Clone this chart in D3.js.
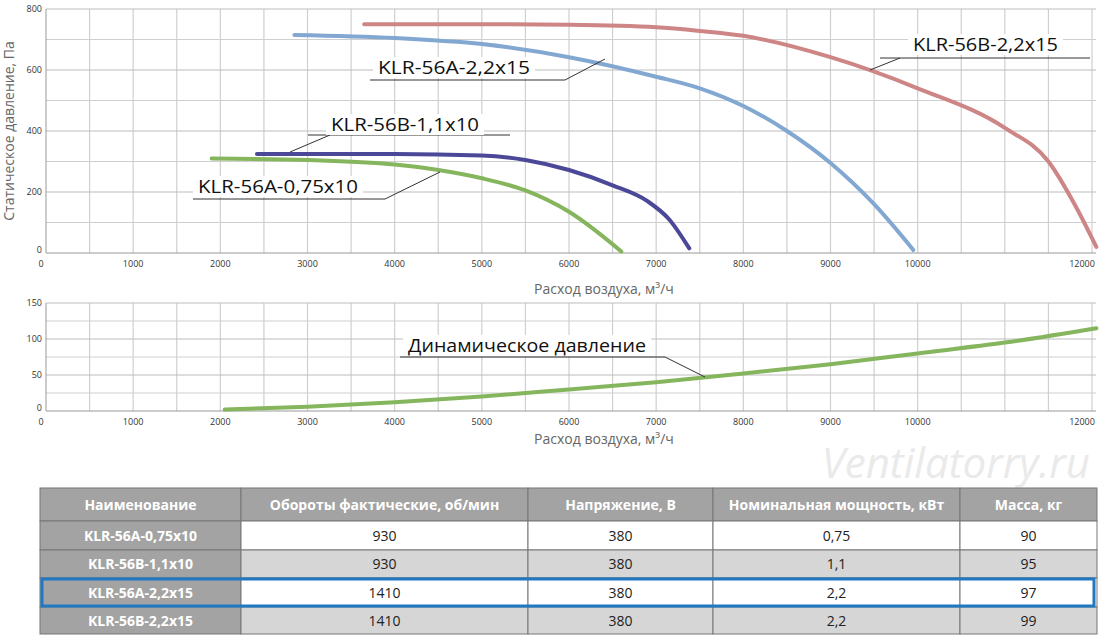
<!DOCTYPE html>
<html><head><meta charset="utf-8">
<script src="https://cdn.jsdelivr.net/npm/d3@7"></script>
<style>body{margin:0;background:#fff}svg{font-family:"Open Sans",sans-serif}</style>
</head><body><svg id="c" width="1100" height="640"></svg>
<script>
const curveNames = ["KLR-56A-0,75x10", "KLR-56B-1,1x10", "KLR-56A-2,2x15", "KLR-56B-2,2x15"];
const curveColors = ["#85b55c", "#4b4897", "#82a8d2", "#cd8585"];
const curveA075 = [[1900,310],[3000,305],[4000,290],[4500,272],[5000,245],[5500,205],[6000,135],[6600,5]];
const curveB11 = [[2420,325],[4000,325],[5000,320],[5500,305],[6000,272],[6500,222],[6900,170],[7150,110],[7380,15]];
const curveA22 = [[2850,715],[4000,705],[5000,685],[6000,642],[7000,578],[7500,540],[8000,482],[8500,400],[9000,295],[9500,160],[9950,10]];
const curveB22 = [[3650,750],[5000,750],[6000,748],[7000,740],[7500,728],[8000,712],[9000,642],[10000,540],[11000,410],[11500,300],[11800,160],[12050,20]];
const dynamic = [[2050,2],[3000,6],[4000,12],[5000,20],[6000,30],[7000,40],[8000,52],[9000,65],[10000,80],[11000,95],[12050,115]];
const xTicks = [0,1000,2000,3000,4000,5000,6000,7000,8000,9000,10000,12000];
const yTicksTop = [0,200,400,600,800];
const yTicksBot = [0,50,100,150];
const tableHead = ["Наименование","Обороты фактические, об/мин","Напряжение, В","Номинальная мощность, кВт","Масса, кг"];
const tableRows = [
  ["KLR-56A-0,75x10","930","380","0,75","90"],
  ["KLR-56B-1,1x10","930","380","1,1","95"],
  ["KLR-56A-2,2x15","1410","380","2,2","97"],
  ["KLR-56B-2,2x15","1410","380","2,2","99"]
];

const svg = d3.select("#c");
const x = d3.scaleLinear().domain([0,12000]).range([46,1092]);
const yT = d3.scaleLinear().domain([0,800]).range([253,9]);
const yB = d3.scaleLinear().domain([0,150]).range([411,303]);

function panel(y, maxV, step, ticks) {
  const g = svg.append("g");
  g.selectAll(".v").data(d3.range(500,12500,500)).enter().append("line")
    .attr("x1",d=>x(d)).attr("x2",d=>x(d)).attr("y1",y(0)).attr("y2",y(maxV))
    .attr("stroke","#cfcfcf").attr("stroke-width",1.2);
  g.selectAll(".h").data(d3.range(step,maxV+1,step)).enter().append("line")
    .attr("x1",x(0)).attr("x2",x(12000)+4).attr("y1",d=>y(d)).attr("y2",d=>y(d))
    .attr("stroke",(d,i)=>i%2?"#bdbdbd":"#cfcfcf").attr("stroke-width",1.2);
  g.append("line").attr("x1",x(0)).attr("x2",x(0)).attr("y1",y(0)).attr("y2",y(maxV)).attr("stroke","#999");
  g.append("line").attr("x1",x(0)).attr("x2",x(12000)+4).attr("y1",y(0)).attr("y2",y(0)).attr("stroke","#999");
  g.selectAll(".yl").data(ticks).enter().append("text").attr("x",x(0)-4).attr("y",d=>y(d)+(d===0?0:3))
    .attr("text-anchor","end").attr("font-size",9).attr("fill","#333").text(d=>d);
  g.selectAll(".xl").data(xTicks).enter().append("text")
    .attr("x",d=>x(d)+(d===0?-5:d===12000?-10:0)).attr("y",y(0)+14)
    .attr("text-anchor","middle").attr("font-size",9).attr("fill","#333").text(d=>d);
}
panel(yT, 800, 100, yTicksTop);
panel(yB, 150, 25, yTicksBot);

const line = yy => d3.line().x(d=>x(d[0])).y(d=>yy(d[1])).curve(d3.curveMonotoneX);
[curveA075, curveB11, curveA22, curveB22].forEach((c,i)=>{
  svg.append("path").attr("d",line(yT)(c)).attr("fill","none")
    .attr("stroke",curveColors[i]).attr("stroke-width",4).attr("stroke-linecap","round");
});
svg.append("path").attr("d",line(yB)(dynamic)).attr("fill","none")
  .attr("stroke","#85b55c").attr("stroke-width",4).attr("stroke-linecap","round");

// leader labels: text pos, underline, anchor on curve
const labels = [
  {t:curveNames[3], tx:913, ty:51, w:145, u:[880,1090,58], k:900, p:[870,70]},
  {t:curveNames[2], tx:378, ty:74, w:152, u:[370,565,80], k:565, p:[605,59]},
  {t:curveNames[1], tx:331, ty:131, w:148, u:[308,510,135], k:330, p:[290,152]},
  {t:curveNames[0], tx:198, ty:193, w:160, u:[193,385,199], k:385, p:[440,172]},
  {t:"Динамическое давление", tx:408, ty:352, w:238, u:[400,665,357], k:665, p:[705,377]}
];
labels.forEach(l=>{
  svg.append("line").attr("x1",l.u[0]).attr("x2",l.u[1]).attr("y1",l.u[2]).attr("y2",l.u[2]).attr("stroke","#333");
  svg.append("line").attr("x1",l.k).attr("x2",l.p[0]).attr("y1",l.u[2]).attr("y2",l.p[1]).attr("stroke","#333");
  svg.append("rect").attr("x",l.tx-5).attr("y",l.ty-17).attr("width",l.w+10).attr("height",21).attr("fill","#fff");
  svg.append("text").attr("x",l.tx).attr("y",l.ty).attr("font-size",18).attr("fill","#111")
    .attr("textLength",l.w).attr("lengthAdjust","spacingAndGlyphs").text(l.t);
});

svg.append("text").attr("transform","translate(14,131) rotate(-90)").attr("text-anchor","middle")
  .attr("font-size",14).attr("fill","#666").text("Статическое давление, Па");
svg.append("text").attr("x",604).attr("y",294).attr("text-anchor","middle").attr("font-size",14).attr("fill","#666").text("Расход воздуха, м³/ч");
svg.append("text").attr("x",604).attr("y",444).attr("text-anchor","middle").attr("font-size",14).attr("fill","#666").text("Расход воздуха, м³/ч");
svg.append("text").attr("x",1090).attr("y",478).attr("text-anchor","end").attr("font-size",42)
  .attr("font-style","italic").attr("fill","#eaeaea").text("Ventilatorry.ru");

// table
const colX = [40,241,528,713,960,1097];
const rowY = [488,521,550,578,607,634];
const tg = svg.append("g");
[tableHead, ...tableRows].forEach((row,r)=>{
  row.forEach((cell,c)=>{
    const gray = r===0 || c===0;
    tg.append("rect").attr("x",colX[c]).attr("y",rowY[r]).attr("width",colX[c+1]-colX[c]).attr("height",rowY[r+1]-rowY[r])
      .attr("fill", gray ? "#a3a3a3" : (r%2===0 ? "#d6d6d6" : "#fff")).attr("stroke","#777").attr("stroke-width",1);
    tg.append("text").attr("x",(colX[c]+colX[c+1])/2).attr("y",(rowY[r]+rowY[r+1])/2+5)
      .attr("text-anchor","middle").attr("font-size",14).attr("font-weight",gray?"bold":"normal")
      .attr("fill",gray?"#fff":"#222").text(cell);
  });
});
tg.append("rect").attr("x",42).attr("y",579).attr("width",1052).attr("height",27).attr("fill","none")
  .attr("stroke","#1f78c1").attr("stroke-width",3);
</script></body></html>
